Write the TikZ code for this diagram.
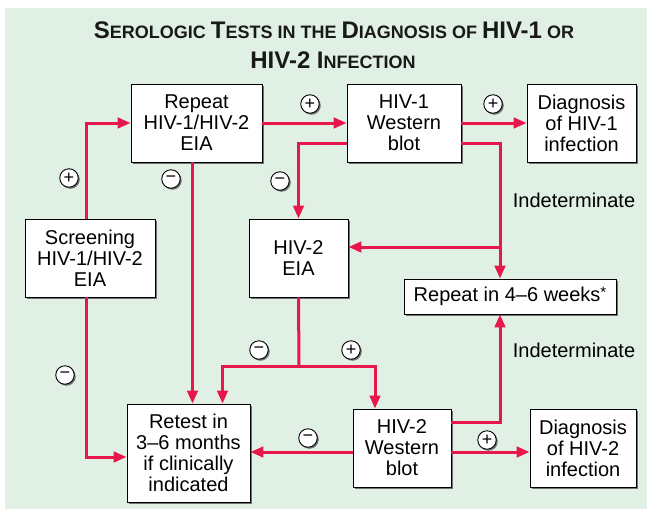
\documentclass[tikz,border=0pt]{standalone}
\usepackage{fontspec}
\setmainfont{Liberation Sans}
\usetikzlibrary{arrows.meta,shadows}

\newcommand{\bigc}[1]{{\fontsize{24}{30}\selectfont #1}}
\newcommand{\smallc}[1]{{\fontsize{18}{30}\selectfont #1}}

\begin{document}
\begin{tikzpicture}[x=1pt, y=-1pt,
  box/.style={draw=black, line width=0.8pt, fill=white, align=center, inner sep=0pt,
    font=\fontsize{20}{21}\selectfont,
    drop shadow={shadow xshift=2pt, shadow yshift=-2pt, fill=black!55, opacity=1}},
  sign/.style={circle, draw=black, line width=0.9pt, fill=white, minimum size=18.5pt,
    inner sep=0pt, font=\fontsize{18}{18}\selectfont,
    drop shadow={shadow xshift=1.5pt, shadow yshift=-1.5pt, fill=black!55, opacity=1}},
  lnk/.style={draw=linkc, line width=3pt},
  arr/.style={lnk, -{Triangle[length=13pt, width=10.5pt]}}]

\definecolor{bgc}{HTML}{E1F0E5}
\definecolor{linkc}{HTML}{E8174B}

\useasboundingbox (0,0) rectangle (647,509);
\fill[bgc] (5,8) rectangle (647,509);

\node[font=\bfseries\fontsize{18}{30}\selectfont, text=black!90, anchor=base] (title1) at (334,38)
  {\bigc{S}\smallc{EROLOGIC} \bigc{T}\smallc{ESTS IN THE} \bigc{D}\smallc{IAGNOSIS OF} \bigc{HIV-1} \smallc{OR}};
\node[font=\bfseries\fontsize{18}{30}\selectfont, text=black!90, anchor=base] (title2) at (333,68)
  {\bigc{HIV-2 I}\smallc{NFECTION}};

\node[box, minimum width=131pt, minimum height=78pt] (rep) at (196.5,123) {Repeat\\HIV-1/HIV-2\\EIA};
\node[box, minimum width=114pt, minimum height=78pt] (wb1) at (404,123) {HIV-1\\Western\\blot};
\node[box, minimum width=109pt, minimum height=78pt] (dx1) at (581.5,123) {Diagnosis\\of HIV-1\\infection};
\node[box, minimum width=130pt, minimum height=78pt] (scr) at (90,258) {Screening\\HIV-1/HIV-2\\EIA};
\node[box, minimum width=99pt, minimum height=78pt] (eia2) at (298.5,258) {HIV-2\\EIA};
\node[box, minimum width=212pt, minimum height=35pt] (rpt) at (510,296.5) {Repeat in 4--6 weeks\raisebox{4pt}{\fontsize{15}{15}\selectfont *}};
\node[box, minimum width=123pt, minimum height=98pt] (ret) at (188.5,453) {Retest in\\3--6 months\\if clinically\\indicated};
\node[box, minimum width=98pt, minimum height=78pt] (wb2) at (402,448) {HIV-2\\Western\\blot};
\node[box, minimum width=106pt, minimum height=78pt] (dx2) at (583,448) {Diagnosis\\of HIV-2\\infection};

\coordinate (ind) at (500,247);
\coordinate (split) at (299,366);

\draw[arr] ([xshift=-4pt]scr.north) |- (rep.west);
\draw[arr] (rep) -- (wb1);
\draw[arr] (wb1) -- (dx1);
\draw[arr] ([yshift=-20pt]wb1.west) -| (eia2.north);
\draw[arr] ([yshift=-20pt]wb1.east) -| (ind |- rpt.north);
\draw[arr] (ind) -- (ind -| eia2.east);
\draw[arr] ([xshift=-4pt]rep.south) -- ([xshift=-4pt]rep.south |- ret.north);
\draw[arr] ([xshift=-4pt]scr.south) |- ([yshift=-4pt]ret.west);
\draw[lnk] (eia2.south) -- (split);
\draw[arr] (split) -| ([xshift=34pt]ret.north);
\draw[arr] (split) -| ([xshift=-27pt]wb2.north);
\draw[arr] ([yshift=26pt]wb2.east) -| (ind |- rpt.south);
\draw[arr] ([yshift=-4pt]wb2.west) -- ([yshift=-4pt]wb2.west -| ret.east);
\draw[arr] ([yshift=-4pt]wb2.east) -- ([yshift=-4pt]wb2.east -| dx2.west);

\node[font=\fontsize{20}{21}\selectfont] (ind1) at (574,200) {Indeterminate};
\node[font=\fontsize{20}{21}\selectfont] (ind2) at (574,350) {Indeterminate};

\node[sign] (pscr) at (69,178) {+};
\node[sign] (prep) at (310,104) {+};
\node[sign] (pwb1) at (493,104) {+};
\node[sign] (mwb1) at (280,181) {−};
\node[sign] (mrep) at (171,179) {−};
\node[sign] (mscr) at (65,375) {−};
\node[sign] (meia) at (259,350) {−};
\node[sign] (peia) at (351,350) {+};
\node[sign] (mwb2) at (308,438) {−};
\node[sign] (pwb2) at (487,440) {+};

\end{tikzpicture}
\end{document}
